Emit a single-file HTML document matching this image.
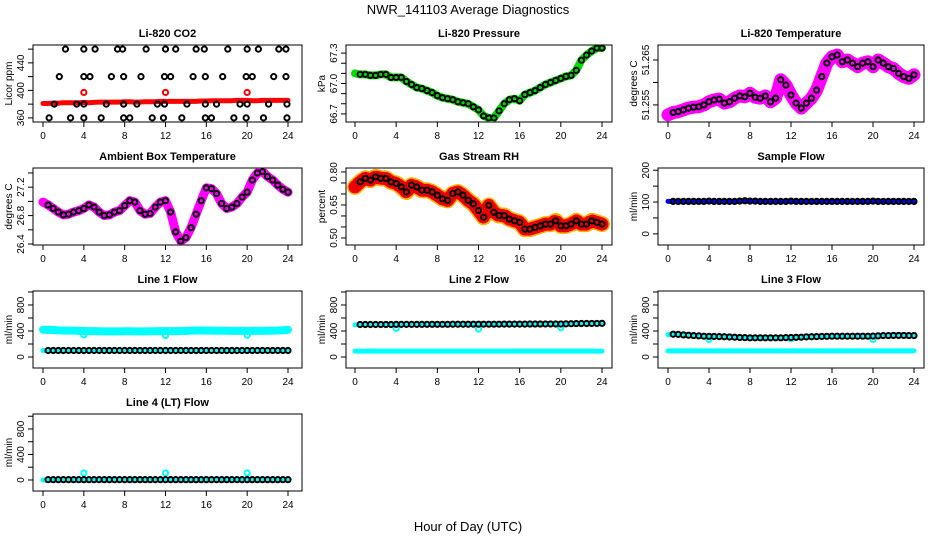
<!DOCTYPE html>
<html><head><meta charset="utf-8"><style>
html,body{margin:0;padding:0;background:#fff}
svg{display:block;font-family:"Liberation Sans",sans-serif}
</style></head><body>
<svg id="chart" width="936" height="540" viewBox="0 0 936 540">
<text x="468" y="14" text-anchor="middle" font-size="13">NWR_141103  Average Diagnostics</text>
<text x="468" y="531" text-anchor="middle" font-size="13">Hour of Day (UTC)</text>
</svg>
<script>
const hours=[0,0.5,1,1.5,2,2.5,3,3.5,4,4.5,5,5.5,6,6.5,7,7.5,8,8.5,9,9.5,10,10.5,11,11.5,12,12.5,13,13.5,14,14.5,15,15.5,16,16.5,17,17.5,18,18.5,19,19.5,20,20.5,21,21.5,22,22.5,23,23.5,24];
const xTicks=[0,4,8,12,16,20,24];
const spikeHours=[4,12,20];

const co2Red=[381,381,381.5,381.5,382,382,382,382,382.5,382,382.5,383,383,383,383,383,383.5,383.5,383,383,383.5,383.5,383.5,384,384,384,384,384,384,384,384,384.5,384.5,385,385,385,385,385,385.5,385.5,385.5,385,385,385.5,385.5,385.5,385.5,385.5,385.5];
const co2Spikes=[397,397,397];
const co2BlackHours=[2.2,4,5.1,7.3,7.8,10.1,12,13,15,15.8,18.1,20,21.1,23.1,23.8, 1.6,4,4.6,6.7,7.9,9.6,11.9,12.5,14.7,15.9,17.6,19.9,20.5,22.6,23.8, 1.1,3.3,4,6.2,7.9,9.2,11.2,11.9,14.1,15.9,17,19.3,20,22.1,23.9, 0.6,2.7,4,5.7,7.9,8.5,10.7,11.8,13.6,15.9,16.5,18.7,19.9,21.6,23.9];
const co2BlackVals=[460,460,460,460,460,460,460,460,460,460,460,460,460,460,460, 420,420,420,420,420,420,420,420,420,420,420,420,420,420,420, 380,380,380,380,380,380,380,380,380,380,380,380,380,380,380, 360,360,360,360,360,360,360,360,360,360,360,360,360,360,360];
const co2YTicks=[360,380,400,420,440,460];
const co2YLabels=["360","","400","","440",""];

const pressure=[67.10,67.09,67.09,67.08,67.08,67.09,67.09,67.06,67.06,67.06,67.02,66.99,66.96,66.95,66.93,66.91,66.88,66.86,66.85,66.84,66.82,66.81,66.80,66.77,66.74,66.68,66.66,66.66,66.73,66.80,66.84,66.85,66.83,66.89,66.91,66.93,66.96,66.99,67.01,67.03,67.05,67.07,67.08,67.13,67.23,67.28,67.32,67.35,67.35];
const pressYTicks=[66.7,66.8,66.9,67.0,67.1,67.2,67.3];
const pressYLabels=["66.7","","","67.0","","","67.3"];

const licorTemp=[51.2528,51.2533,51.2535,51.2539,51.2543,51.2545,51.2546,51.2550,51.2557,51.2561,51.2563,51.2554,51.2557,51.2565,51.2570,51.2568,51.2576,51.2567,51.2565,51.2570,51.2557,51.2565,51.2606,51.2594,51.2572,51.2554,51.2543,51.2554,51.2565,51.2583,51.2613,51.2643,51.2657,51.2661,51.2646,51.2650,51.2643,51.2635,51.2643,51.2646,51.2635,51.2650,51.2643,51.2635,51.2631,51.2620,51.2613,51.2609,51.2617];
const tempYTicks=[51.255,51.26,51.265];
const tempYLabels=["51.255","","51.265"];

const ambient=[26.99,26.95,26.90,26.85,26.81,26.82,26.85,26.87,26.90,26.95,26.92,26.85,26.80,26.81,26.85,26.87,26.94,27.01,26.99,26.87,26.82,26.83,26.92,26.99,27.01,26.85,26.57,26.44,26.49,26.63,26.82,27.01,27.19,27.18,27.11,26.97,26.90,26.92,26.97,27.06,27.13,27.30,27.40,27.42,27.35,27.30,27.23,27.17,27.13];
const ambYTicks=[26.4,26.6,26.8,27.0,27.2,27.4];
const ambYLabels=["26.4","","26.8","","27.2",""];

const rh=[0.732,0.755,0.771,0.763,0.778,0.771,0.771,0.755,0.748,0.732,0.709,0.740,0.732,0.717,0.717,0.709,0.694,0.678,0.671,0.702,0.709,0.694,0.671,0.655,0.625,0.594,0.648,0.617,0.602,0.602,0.586,0.578,0.571,0.540,0.540,0.548,0.555,0.563,0.563,0.578,0.555,0.555,0.563,0.578,0.563,0.563,0.578,0.571,0.563];
const rhYTicks=[0.50,0.55,0.60,0.65,0.70,0.75,0.80];
const rhYLabels=["0.50","","","0.65","","","0.80"];

const sampleFlow=[102,102,102,102,102,102,102,102,103,102,102,102,102,102,103,104,103,103,102,102,102,102,102,102,103,102,102,102,102,102,102,102,102,102,102,102,102,102,102,102,103,102,102,102,102,102,102,102,102];
const sampleYTicks=[0,50,100,150,200];
const sampleYLabels=["0","","100","","200"];

const line1Upper=[420,418,415,410,408,405,405,402,400,398,398,396,395,395,395,395,396,396,395,395,395,396,396,398,398,398,398,400,400,405,408,408,406,405,404,404,403,402,402,402,402,402,402,402,404,406,408,412,418];
const line1Lower=[100,100,100,100,100,100,100,100,100,100,100,100,100,100,100,100,100,100,100,100,100,100,100,100,100,100,100,100,100,100,100,100,100,100,100,100,100,100,100,100,100,100,100,100,100,100,100,100,100];
const line1Spikes=[340,330,335];
const line2Upper=[495,500,500,500,500,500,500,500,502,502,502,502,502,502,503,503,503,503,503,504,504,504,504,505,505,505,505,505,505,506,506,506,506,506,507,507,507,508,508,508,508,510,512,514,515,515,516,516,518];
const line2Lower=[90,90,90,90,90,90,90,90,90,90,90,90,90,90,90,90,90,90,90,90,90,90,90,90,90,90,90,90,90,90,90,90,90,90,90,90,90,90,90,90,90,90,90,90,90,90,90,90,90];
const line2Spikes=[440,430,450];
const line3Upper=[345,350,348,340,335,330,325,320,318,316,314,312,308,305,300,298,295,295,295,295,295,295,295,298,300,302,305,310,312,314,316,318,320,320,320,320,320,320,320,320,322,325,330,330,332,332,332,330,330];
const line3Lower=[95,95,95,95,95,95,95,95,95,95,95,95,95,95,95,95,95,95,95,95,95,95,95,95,95,95,95,95,95,95,95,95,95,95,95,95,95,95,95,95,95,95,95,95,95,95,95,95,95];
const line3Spikes=[270,280,270];
const line4Cyan=[0,0,0,0,0,0,0,0,0,0,0,0,0,0,0,0,0,0,0,0,0,0,0,0,0,0,0,0,0,0,0,0,0,0,0,0,0,0,0,0,0,0,0,0,0,0,0,0,0];
const line4Black=[5,5,5,5,5,5,5,5,5,5,5,5,5,5,5,5,5,5,5,5,5,5,5,5,5,5,5,5,5,5,5,5,5,5,5,5,5,5,5,5,5,5,5,5,5,5,5,5,5];
const line4Spikes=[110,110,110];
const flowYTicks=[0,200,400,600,800,1000];
const flowYLabels=["0","","400","","800",""];

const NS="http://www.w3.org/2000/svg";
const svg=document.getElementById('chart');
function mk(tag,attrs,parent){const e=document.createElementNS(NS,tag);for(const k in attrs)e.setAttribute(k,attrs[k]);(parent||svg).appendChild(e);return e;}

const cols=[{l:33,r:302,x0:43,x24:288},{l:346,r:612,x0:355,x24:602},{l:658,r:924,x0:668,x24:914}];
const rows=[{t:45,b:122},{t:168,b:245},{t:291,b:368},{t:414,b:491}];

function panel(name,title,ylab,col,row,ymin,ymax,yt,yl){
  const c=cols[col],r=rows[row];
  const g=mk('g',{});
  
  
  const xs=h=>c.x0+(c.x24-c.x0)*h/24;
  const ys=v=>r.b-(v-ymin)/(ymax-ymin)*(r.b-r.t);
  const t=mk('text',{x:(c.l+c.r)/2,y:r.t-8,'text-anchor':'middle','font-size':11,'font-weight':'bold'},g);
  t.textContent=title;
  
  
  const box=mk('rect',{x:c.l,y:r.t,width:c.r-c.l,height:r.b-r.t,fill:'none',stroke:'#000','stroke-width':1},g);
  
  
  const xa=mk('g',{},g);
  
  
  xTicks.forEach(h=>{const x=xs(h);mk('line',{x1:x,x2:x,y1:r.b,y2:r.b+5,stroke:'#000'},xa);
    const tx=mk('text',{x:x,y:r.b+17,'text-anchor':'middle','font-size':10},xa);tx.textContent=h;});
  const ya=mk('g',{},g);
  
  
  yt.forEach((v,i)=>{const y=ys(v);mk('line',{x1:c.l-5,x2:c.l,y1:y,y2:y,stroke:'#000'},ya);
    if(yl[i]){const tx=mk('text',{x:0,y:0,'text-anchor':'middle','font-size':10,transform:`translate(${c.l-9},${y}) rotate(-90)`},ya);tx.textContent=yl[i];}});
  const yt2=mk('text',{x:0,y:0,'text-anchor':'middle','font-size':10,transform:`translate(${c.l-21},${(r.t+r.b)/2}) rotate(-90)`},g);
  yt2.textContent=ylab;
  
  
  const clip='clip-'+name;
  const cp=mk('clipPath',{id:clip},g);mk('rect',{x:c.l,y:r.t,width:c.r-c.l,height:r.b-r.t},cp);
  const plot=mk('g',{'clip-path':`url(#${clip})`},g);
  return {xs,ys,plot};
}
function band(p,name,hs,vals,color,w){
  const pts=hs.map((h,i)=>p.xs(h)+','+p.ys(vals[i])).join(' ');
  const e=mk('polyline',{points:pts,fill:'none',stroke:color,'stroke-width':w,'stroke-linecap':'round','stroke-linejoin':'round'},p.plot);
  
  
  return e;
}
function circles(p,name,hs,vals,color){
  const g=mk('g',{},p.plot);
  
  
  hs.forEach((h,i)=>mk('circle',{cx:p.xs(h),cy:p.ys(vals[i]),r:2.6,fill:'none',stroke:color,'stroke-width':2},g));
}

let p;
p=panel('co2','Li-820 CO2','Licor ppm',0,0,354,466,co2YTicks,co2YLabels);
band(p,'co2-red-band',hours,co2Red,'#f00',5);
circles(p,'co2-red-spikes',spikeHours,co2Spikes,'#f00');
circles(p,'co2-black-points',co2BlackHours,co2BlackVals,'#000');

p=panel('pressure','Li-820 Pressure','kPa',1,0,66.62,67.38,pressYTicks,pressYLabels);
band(p,'pressure-green-band',hours,pressure,'#0d0',8);
circles(p,'pressure-black-points',hours.slice(1),pressure.slice(1),'#000');

p=panel('licor-temp','Li-820 Temperature','degrees C',2,0,51.2512,51.26833,tempYTicks,tempYLabels);
band(p,'licor-temp-magenta-band',hours,licorTemp,'#f0f',13);
circles(p,'licor-temp-black-points',hours.slice(1),licorTemp.slice(1),'#000');

p=panel('ambient','Ambient Box Temperature','degrees C',0,1,26.386,27.47,ambYTicks,ambYLabels);
band(p,'ambient-magenta-band',hours,ambient,'#f0f',9);
circles(p,'ambient-black-points',hours.slice(1),ambient.slice(1),'#000');

p=panel('rh','Gas Stream RH','percent',1,1,0.468,0.818,rhYTicks,rhYLabels);
band(p,'rh-orange-band',hours,rh,'#ffb000',16);
band(p,'rh-red-dots',hours,rh,'#e00',13).setAttribute('stroke-dasharray','1.5 3');
circles(p,'rh-black-points',hours.slice(1),rh.slice(1),'#000');

p=panel('sample-flow','Sample Flow','ml/min',2,1,-35,207,sampleYTicks,sampleYLabels);
band(p,'sample-flow-blue-band',hours,sampleFlow,'#00f',5);
circles(p,'sample-flow-black-points',hours.slice(1),sampleFlow.slice(1),'#000');

p=panel('line1','Line 1 Flow','ml/min',0,2,-169,1015,flowYTicks,flowYLabels);
band(p,'line1-cyan-upper',hours,line1Upper,'#0ff',8);
band(p,'line1-cyan-lower',hours,line1Lower,'#0ff',5);
circles(p,'line1-cyan-spikes',spikeHours,line1Spikes,'#0ff');
circles(p,'line1-black-points',hours.slice(1),line1Lower.slice(1),'#000');

p=panel('line2','Line 2 Flow','ml/min',1,2,-169,1015,flowYTicks,flowYLabels);
band(p,'line2-cyan-upper',hours,line2Upper,'#0ff',5);
band(p,'line2-cyan-lower',hours,line2Lower,'#0ff',5);
circles(p,'line2-cyan-spikes',spikeHours,line2Spikes,'#0ff');
circles(p,'line2-black-points',hours.slice(1),line2Upper.slice(1),'#000');

p=panel('line3','Line 3 Flow','ml/min',2,2,-169,1015,flowYTicks,flowYLabels);
band(p,'line3-cyan-upper',hours,line3Upper,'#0ff',5);
band(p,'line3-cyan-lower',hours,line3Lower,'#0ff',5);
circles(p,'line3-cyan-spikes',spikeHours,line3Spikes,'#0ff');
circles(p,'line3-black-points',hours.slice(1),line3Upper.slice(1),'#000');

p=panel('line4','Line 4 (LT) Flow','ml/min',0,3,-173,1035,flowYTicks,flowYLabels);
band(p,'line4-cyan-band',hours,line4Cyan,'#0ff',5);
circles(p,'line4-cyan-spikes',spikeHours,line4Spikes,'#0ff');
circles(p,'line4-black-points',hours.slice(1),line4Black.slice(1),'#000');
</script>
</body></html>
